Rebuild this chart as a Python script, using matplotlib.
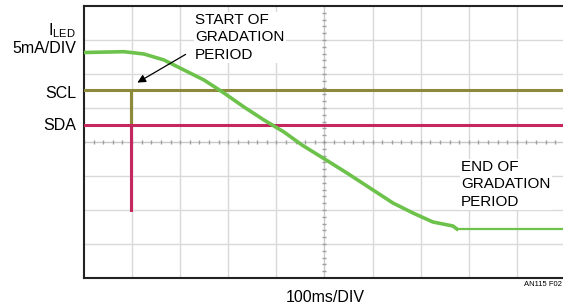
import numpy as np
import matplotlib.pyplot as plt

iled_px = [84, 124, 144, 164, 184, 204, 224, 244, 264, 284, 302, 323, 347, 370, 393, 413, 433, 453, 457, 563]
iled_py = [52.5, 51.7, 54, 60, 70, 80, 93, 107, 120, 132, 145, 158, 173, 188, 203, 213, 222, 226, 229, 229]
iled_x = [(p - 84) / 48.1 for p in iled_px]
iled_y = [(278 - p) / 34 for p in iled_py]
# donde termina la rampa (la parte plana se ve mas fina)
fin_rampa = 18

# SCL y SDA (divisiones)
scl_x = [0.0, 0.98, 0.98, 0.98, 9.96]
scl_y = [5.53, 5.53, 4.52, 5.53, 5.53]
sda_x = [0.0, 0.98, 0.98, 0.98, 9.96]
sda_y = [4.50, 4.50, 2.0, 4.50, 4.50]

plt.rcParams['font.family'] = ['Liberation Sans', 'DejaVu Sans']

W, H = 563, 305
fig = plt.figure(figsize=(W/100, H/100), dpi=100)
ax = fig.add_axes([84/W, (H-278)/H, (563-84)/W, 272/H])
ax.set_xlim(0, 9.96)
ax.set_ylim(0, 8)

# reticulado
for i in range(1, 10):
    ax.axvline(i, color='#d9d9d9', lw=1, zorder=1)
for j in range(1, 8):
    ax.axhline(j, color='#d9d9d9', lw=1, zorder=1)
# ejes centrales con marquitas
ax.axvline(5, color='#c8c8c8', lw=0.8, zorder=1)
ax.axhline(4, color='#c8c8c8', lw=0.8, zorder=1)
mx = np.arange(0, 10, 0.2)
my = np.arange(0, 8, 0.2)
ax.plot(mx, np.full(len(mx), 4), ls='none', marker='|', ms=3, color='#a0a0a0', zorder=1)
ax.plot(np.full(len(my), 5), my, ls='none', marker='_', ms=3, color='#a0a0a0', zorder=1)

ax.plot(scl_x, scl_y, color='#8c893a', lw=2.2, zorder=3)
ax.plot(sda_x, sda_y, color='#c4285e', lw=2.2, zorder=4)
ax.plot(iled_x[:fin_rampa + 1], iled_y[:fin_rampa + 1], color='#6cc24a', lw=2.6, zorder=5)
ax.plot(iled_x[fin_rampa:], iled_y[fin_rampa:], color='#6cc24a', lw=1.6, zorder=5)

ax.set_xticks([])
ax.set_yticks([])
for s in ['left', 'top', 'bottom']:
    ax.spines[s].set_linewidth(1.5)
    ax.spines[s].set_color('#222222')
ax.spines['right'].set_visible(False)

# textos de la izquierda
fs = 11.5
fig.text(76/W, 1-31/H, r'I$_{\mathregular{LED}}$', ha='right', va='center', fontsize=fs)
fig.text(76/W, 1-48.5/H, '5mA/DIV', ha='right', va='center', fontsize=fs)
fig.text(76/W, 1-93/H, 'SCL', ha='right', va='center', fontsize=fs)
fig.text(76/W, 1-126/H, 'SDA', ha='right', va='center', fontsize=fs)

ax.text((195-84)/48.1, (278-13)/34, 'START OF\nGRADATION\nPERIOD', ha='left', va='top',
        fontsize=11, linespacing=1.3, zorder=6,
        bbox=dict(facecolor='white', edgecolor='none', pad=1))
ax.text((461-84)/48.1, (278-160)/34, 'END OF\nGRADATION\nPERIOD', ha='left', va='top',
        fontsize=11, linespacing=1.3, zorder=6,
        bbox=dict(facecolor='white', edgecolor='none', pad=1))
ax.annotate('', xy=((135-84)/48.1, (278-84)/34), xytext=((188-84)/48.1, (278-53)/34),
            arrowprops=dict(arrowstyle='-|>', color='black', lw=0.9, mutation_scale=12), zorder=7)

fig.text(325/W, 1-297/H, '100ms/DIV', ha='center', va='center', fontsize=fs)
fig.text(562/W, 1-285/H, 'AN115 F02', ha='right', va='center', fontsize=5.5)

fig.savefig('out.png', dpi=100)
